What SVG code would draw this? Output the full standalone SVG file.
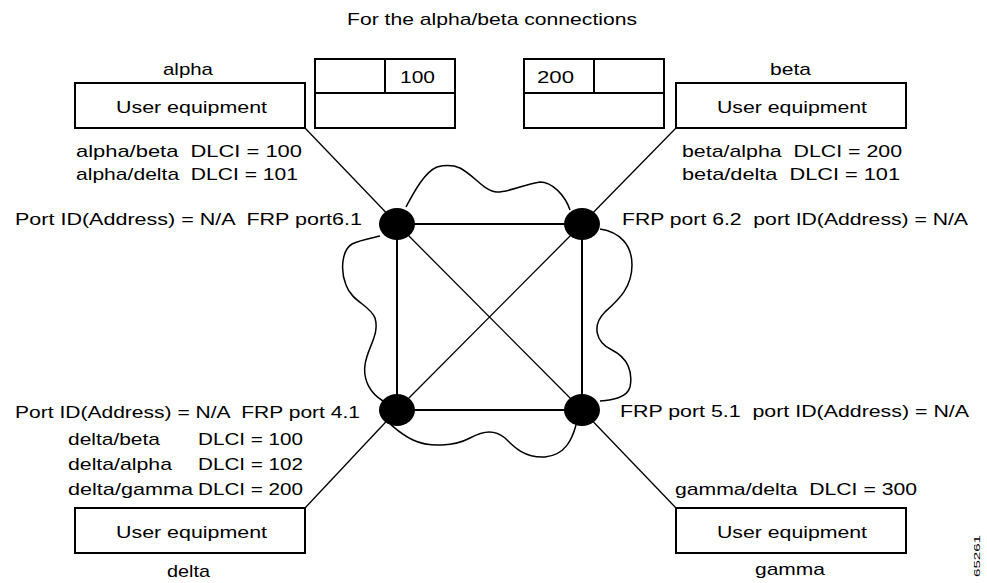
<svg xmlns="http://www.w3.org/2000/svg" width="987" height="583" viewBox="0 0 987 583">
<style>
text{font-family:"Liberation Sans",Arial,sans-serif;font-size:17px;fill:#000;white-space:pre}
.box{fill:#fff;stroke:#000;stroke-width:2}
.sq{stroke:#000;stroke-width:2;fill:none}
.ln{stroke:#000;stroke-width:1.3;fill:none}
.cloud{stroke:#000;stroke-width:1.5;fill:none}
.node{fill:#000}
</style>
<rect width="987" height="583" fill="#fff"/>
<text x="347" y="25" textLength="290" lengthAdjust="spacingAndGlyphs">For the alpha/beta connections</text>

<g id="cloud">
<path class="cloud" d="M406,207 C415,190 425,172 437,167 C445,165 453,165 460,168 C475,176 485,192 497,192 C510,192 525,184 540,182 C552,182 565,195 570,210
M600,229 C620,232 632,245 632,265 C632,288 618,300 605,312 C592,325 595,342 612,350 C628,358 633,372 630,387 C627,398 612,400 600,401
M576,425 C572,440 565,455 545,457 C525,458 515,448 505,438 C495,430 485,430 470,438 C455,446 430,448 413,440 C402,435 395,428 390,424
M383,401 C370,393 363,380 365,365 C367,348 380,335 375,318 C370,305 352,302 346,285 C340,270 342,250 352,244 C360,240 372,238 380,236"/>
</g>

<g id="connectors">
<line class="sq" x1="397" y1="224" x2="582" y2="224"/>
<line class="sq" x1="397" y1="410" x2="582" y2="410"/>
<line class="sq" x1="397" y1="224" x2="397" y2="410"/>
<line class="sq" x1="582" y1="224" x2="582" y2="410"/>
<line class="ln" x1="397" y1="224" x2="582" y2="410"/>
<line class="ln" x1="582" y1="224" x2="397" y2="410"/>
<line class="ln" x1="305" y1="128" x2="397" y2="224"/>
<line class="ln" x1="676" y1="128" x2="582" y2="224"/>
<line class="ln" x1="305" y1="508" x2="397" y2="410"/>
<line class="ln" x1="676" y1="508" x2="582" y2="410"/>
</g>

<g id="node-port61"><ellipse class="node" cx="397" cy="224" rx="18" ry="16"/></g>
<g id="node-port62"><ellipse class="node" cx="582" cy="224" rx="18" ry="16"/></g>
<g id="node-port41"><ellipse class="node" cx="397" cy="410" rx="18" ry="16"/></g>
<g id="node-port51"><ellipse class="node" cx="582" cy="410" rx="18" ry="16"/></g>

<g id="frame-alpha">
<rect class="box" x="315" y="59" width="140" height="69"/>
<line class="box" x1="315" y1="93" x2="455" y2="93"/>
<line class="box" x1="385" y1="59" x2="385" y2="93"/>
<text x="400" y="83" textLength="35" lengthAdjust="spacingAndGlyphs">100</text>
</g>
<g id="frame-beta">
<rect class="box" x="524" y="59" width="140" height="69"/>
<line class="box" x1="524" y1="93" x2="664" y2="93"/>
<line class="box" x1="594" y1="59" x2="594" y2="93"/>
<text x="537" y="83" textLength="37" lengthAdjust="spacingAndGlyphs">200</text>
</g>

<g id="alpha">
<text x="163" y="75" textLength="50" lengthAdjust="spacingAndGlyphs">alpha</text>
<rect class="box" x="75" y="83" width="230" height="45"/>
<text x="116" y="113" textLength="151" lengthAdjust="spacingAndGlyphs">User equipment</text>
<text x="76" y="157" textLength="226" lengthAdjust="spacingAndGlyphs">alpha/beta  DLCI = 100</text>
<text x="76" y="180" textLength="222" lengthAdjust="spacingAndGlyphs">alpha/delta  DLCI = 101</text>
<text x="15" y="225" textLength="347" lengthAdjust="spacingAndGlyphs">Port ID(Address) = N/A  FRP port6.1</text>
</g>

<g id="beta">
<text x="770" y="75" textLength="41" lengthAdjust="spacingAndGlyphs">beta</text>
<rect class="box" x="676" y="83" width="230" height="45"/>
<text x="717" y="113" textLength="150" lengthAdjust="spacingAndGlyphs">User equipment</text>
<text x="682" y="157" textLength="220" lengthAdjust="spacingAndGlyphs">beta/alpha  DLCI = 200</text>
<text x="682" y="180" textLength="218" lengthAdjust="spacingAndGlyphs">beta/delta  DLCI = 101</text>
<text x="622" y="225" textLength="346" lengthAdjust="spacingAndGlyphs">FRP port 6.2  port ID(Address) = N/A</text>
</g>

<g id="delta">
<text x="15" y="418" textLength="345" lengthAdjust="spacingAndGlyphs">Port ID(Address) = N/A  FRP port 4.1</text>
<text x="68" y="445" textLength="92" lengthAdjust="spacingAndGlyphs">delta/beta</text>
<text x="198" y="445" textLength="105" lengthAdjust="spacingAndGlyphs">DLCI = 100</text>
<text x="68" y="470" textLength="104" lengthAdjust="spacingAndGlyphs">delta/alpha</text>
<text x="198" y="470" textLength="105" lengthAdjust="spacingAndGlyphs">DLCI = 102</text>
<text x="68" y="495" textLength="125" lengthAdjust="spacingAndGlyphs">delta/gamma</text>
<text x="198" y="495" textLength="105" lengthAdjust="spacingAndGlyphs">DLCI = 200</text>
<rect class="box" x="75" y="508" width="230" height="45"/>
<text x="116" y="538" textLength="151" lengthAdjust="spacingAndGlyphs">User equipment</text>
<text x="167" y="577" textLength="43" lengthAdjust="spacingAndGlyphs">delta</text>
</g>

<g id="gamma">
<text x="620" y="417" textLength="349" lengthAdjust="spacingAndGlyphs">FRP port 5.1  port ID(Address) = N/A</text>
<text x="675" y="495" textLength="242" lengthAdjust="spacingAndGlyphs">gamma/delta  DLCI = 300</text>
<rect class="box" x="676" y="508" width="230" height="45"/>
<text x="717" y="538" textLength="150" lengthAdjust="spacingAndGlyphs">User equipment</text>
<text x="755" y="575" textLength="70" lengthAdjust="spacingAndGlyphs">gamma</text>
</g>

<text transform="translate(980,577) rotate(-90)" style="font-size:9px" textLength="42" lengthAdjust="spacingAndGlyphs">65261</text>
</svg>
